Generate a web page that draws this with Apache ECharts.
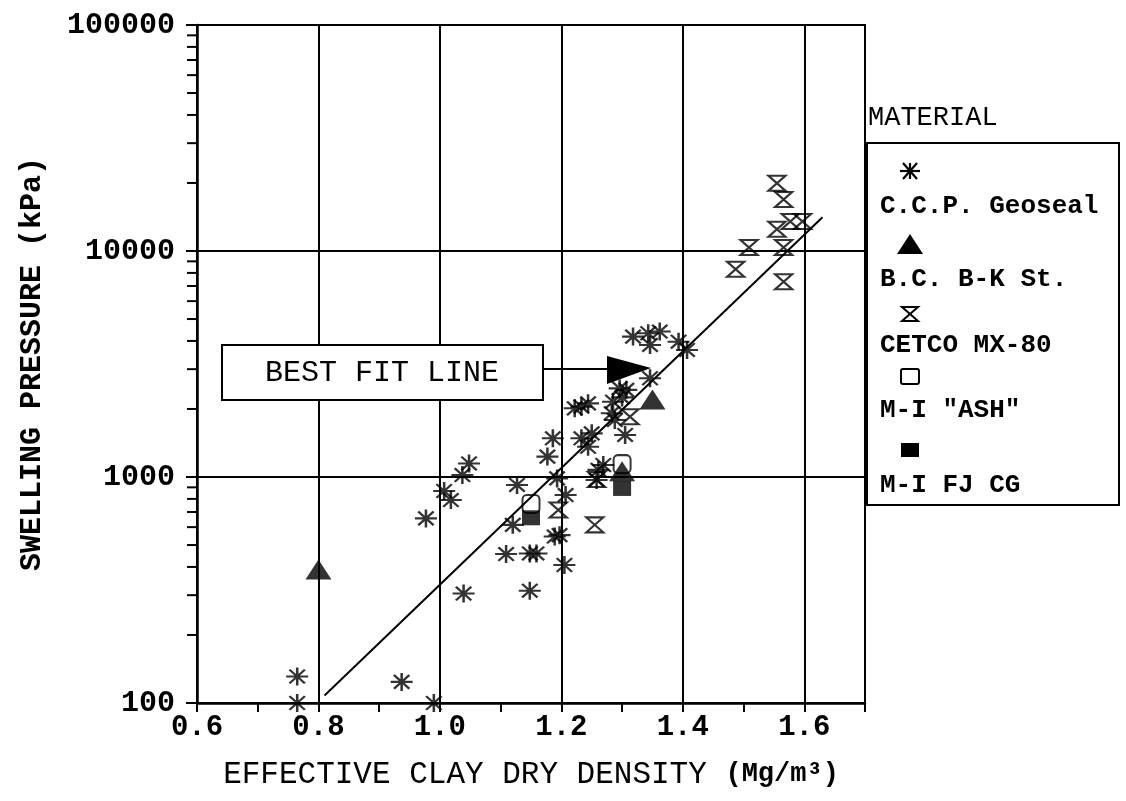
<!DOCTYPE html>
<html>
<head>
<meta charset="utf-8">
<script src="https://cdn.jsdelivr.net/npm/echarts@6/dist/echarts.min.js"></script>
<style>
html,body{margin:0;padding:0;background:#fff;}
#main{width:1126px;height:801px;}
</style>
</head>
<body>
<div id="main"></div>
<script>
// 数据：有效黏土干密度 (Mg/m3) 与膨胀压力 (kPa)
var ccpGeoseal = [[0.765,131],[0.765,100],[0.937,124],[0.99,100],[0.977,656],[1.007,867],[1.018,791],
	[1.037,1020],[1.048,1148],[1.039,305],[1.127,922],[1.12,614],[1.109,456],[1.148,459],[1.159,459],
	[1.148,314],[1.186,1483],[1.177,1231],[1.193,986],[1.207,832],[1.189,545],[1.197,553],[1.205,408],
	[1.222,2013],[1.233,2048],[1.244,2118],[1.233,1483],[1.25,1560],[1.244,1360],[1.285,2153],[1.296,2466],
	[1.307,2430],[1.283,1914],[1.288,1787],[1.305,1535],[1.269,1130],[1.261,1075],[1.258,970],[1.346,2735],
	[1.318,4180],[1.343,4326],[1.362,4400],[1.346,3840],[1.393,3970],[1.407,3650],[1.30,2250]];
var bcBK = [[0.80,390],[1.30,1060],[1.35,2200]];
var cetco = [[1.195,714],[1.255,614],[1.258,975],[1.313,1849],[1.555,19950],[1.566,16900],[1.555,12470],
	[1.577,13500],[1.597,13500],[1.566,10370],[1.509,10370],[1.487,8300],[1.566,7310]];
var miAsh = [[1.15,760],[1.30,1140]];
var miFJ = [[1.15,660],[1.30,890]];
var fitLine = [[0.81,108],[1.63,14100]];
var xTickLabels = ['0.6','0.8','1.0','1.2','1.4','1.6'];
var yMinorTicks = [200,300,400,500,600,700,800,900,2000,3000,4000,5000,6000,7000,8000,9000,
	20000,30000,40000,50000,60000,70000,80000,90000];
var legendNames = ['C.C.P. Geoseal','B.C. B-K St.','CETCO MX-80','M-I "ASH"','M-I FJ CG'];

var FONT = 'Liberation Mono';
var starPath = 'path://M0,5L10,5M5,0L5,10M1.5,1.2L8.5,8.8M1.5,8.8L8.5,1.2';
var hourPath = 'path://M0,0L10,0L0,10L10,10Z';

var chart = echarts.init(document.getElementById('main'));

// 图例符号
function starG(cx, cy){
	var w = 10, h = 8, els = [];
	var segs = [[-w,0,w,0],[0,-h,0,h],[-w*0.7,-h,w*0.7,h],[-w*0.7,h,w*0.7,-h]];
	for (var i = 0; i < segs.length; i++) {
		els.push({type:'line', shape:{x1:cx+segs[i][0],y1:cy+segs[i][1],x2:cx+segs[i][2],y2:cy+segs[i][3]},
			style:{stroke:'#000',lineWidth:2.2}});
	}
	return els;
}
function legendText(txt, x, y, bold, size){
	return {type:'text', x:x, y:y, style:{text:txt, font:(bold?'bold ':'')+size+'px "'+FONT+'"',
		fill:'#000', verticalAlign:'middle', align:'left'}};
}

var lgX = 910, lgTx = 880;
var graphics = [
	// 图例框
	{type:'rect', shape:{x:867,y:143,width:252,height:362}, style:{fill:'#fff',stroke:'#000',lineWidth:2}},
	legendText('MATERIAL', 868, 118, false, 27),
	legendText(legendNames[0], lgTx, 206, true, 26),
	{type:'polygon', shape:{points:[[lgX-13,254],[lgX+13,254],[lgX,234]]}, style:{fill:'#000'}},
	legendText(legendNames[1], lgTx, 279, true, 26),
	{type:'polygon', shape:{points:[[lgX-8,307],[lgX+8,307],[lgX-8,321],[lgX+8,321]]}, style:{fill:'none',stroke:'#000',lineWidth:2}},
	legendText(legendNames[2], lgTx, 345, true, 26),
	{type:'rect', shape:{x:lgX-9,y:369,width:18,height:15,r:2}, style:{fill:'#fff',stroke:'#000',lineWidth:2}},
	legendText(legendNames[3], lgTx, 410, true, 26),
	{type:'rect', shape:{x:lgX-9,y:443,width:18,height:14}, style:{fill:'#000'}},
	legendText(legendNames[4], lgTx, 485, true, 26),
	// 最佳拟合线标注
	{type:'line', shape:{x1:543,y1:369,x2:610,y2:369}, style:{stroke:'#000',lineWidth:2}, z:100},
	{type:'polygon', shape:{points:[[607,356],[651,368],[607,384]]}, style:{fill:'#000'}, z:100},
	{type:'rect', shape:{x:222,y:345,width:321,height:55}, style:{fill:'#fff',stroke:'#000',lineWidth:2}, z:100},
	{type:'text', x:382, y:373, z:101, style:{text:'BEST FIT LINE', font:'normal 30px "'+FONT+'"', fill:'#000',
		align:'center', verticalAlign:'middle'}}
].concat(starG(lgX, 171));

option = {
	backgroundColor:'#fff',
	animation:false,
	grid:{
		left:197, right:261, top:25, bottom:98,
		show:true, borderColor:'#000', borderWidth:2,
		containLabel:false, outerBoundsMode:'none'
	},
	xAxis:[{
		type:'value', min:0.6, max:1.7, interval:0.1,
		name:'{r|EFFECTIVE CLAY DRY DENSITY\u00a0}{b|(Mg/m³)}',
		nameLocation:'middle', nameGap:56,
		nameTextStyle:{rich:{
			r:{fontFamily:FONT, fontSize:31, color:'#000'},
			b:{fontFamily:FONT, fontSize:27, fontWeight:'bold', color:'#000'}
		}},
		axisLine:{show:true, lineStyle:{color:'#000', width:2.5}},
		axisTick:{show:true, inside:false, length:9, lineStyle:{color:'#000', width:2}},
		axisLabel:{
			margin:10, color:'#000', fontFamily:FONT, fontSize:29, fontWeight:'bold',
			formatter:function(v){
				var t = Math.round(v*10);
				if (t % 2 === 0 && xTickLabels.indexOf((t/10).toFixed(1)) >= 0) return (t/10).toFixed(1);
				return '';
			}
		},
		splitLine:{show:false}
	},{
		// 竖向网格线
		type:'value', min:0.6, max:1.7, interval:0.2, position:'top',
		axisLine:{show:false}, axisTick:{show:false}, axisLabel:{show:false},
		splitLine:{show:true, lineStyle:{color:'#000', width:2}}
	}],
	yAxis:{
		type:'log', logBase:10, min:100, max:100000,
		name:'SWELLING PRESSURE (kPa)',
		nameLocation:'middle', nameGap:150,
		nameTextStyle:{fontFamily:FONT, fontSize:30, fontWeight:'bold', color:'#000'},
		axisLine:{show:true, lineStyle:{color:'#000', width:2.5}},
		axisTick:{show:true, inside:false, length:11, lineStyle:{color:'#000', width:2}},
		axisLabel:{
			margin:22, color:'#000', fontFamily:FONT, fontSize:30, fontWeight:'bold',
			formatter:function(v){ return String(Math.round(v)); }
		},
		splitLine:{show:true, lineStyle:{color:'#000', width:2}}
	},
	series:[{
		name:'fit', type:'line', data:fitLine, symbol:'none', silent:true,
		lineStyle:{color:'#000', width:2}
	},{
		name:'minorTicks', type:'custom', silent:true, clip:false,
		data:yMinorTicks.map(function(v){ return [0.6, v]; }),
		renderItem:function(params, api){
			var p = api.coord([api.value(0), api.value(1)]);
			return {type:'line', shape:{x1:p[0]-10, y1:p[1], x2:p[0], y2:p[1]},
				style:{stroke:'#000', lineWidth:2}};
		}
	},{
		name:legendNames[2], type:'scatter', data:cetco, symbol:hourPath, symbolSize:[17,15],
		itemStyle:{color:'rgba(255,255,255,0)', borderColor:'#000', borderWidth:2.2}
	},{
		name:legendNames[3], type:'scatter', data:miAsh, symbol:'roundRect', symbolSize:[17,18],
		itemStyle:{color:'#fff', borderColor:'#000', borderWidth:2}
	},{
		name:legendNames[4], type:'scatter', data:miFJ, symbol:'rect', symbolSize:[18,15],
		itemStyle:{color:'#000'}
	},{
		name:legendNames[0], type:'scatter', data:ccpGeoseal, symbol:starPath, symbolSize:[22,18],
		itemStyle:{color:'rgba(0,0,0,0)', borderColor:'#000', borderWidth:2.3}
	},{
		name:legendNames[1], type:'scatter', data:bcBK, symbol:'triangle', symbolSize:[26,20],
		itemStyle:{color:'#000'}
	}],
	graphic:graphics
};
chart.setOption(option);
</script>
</body>
</html>
